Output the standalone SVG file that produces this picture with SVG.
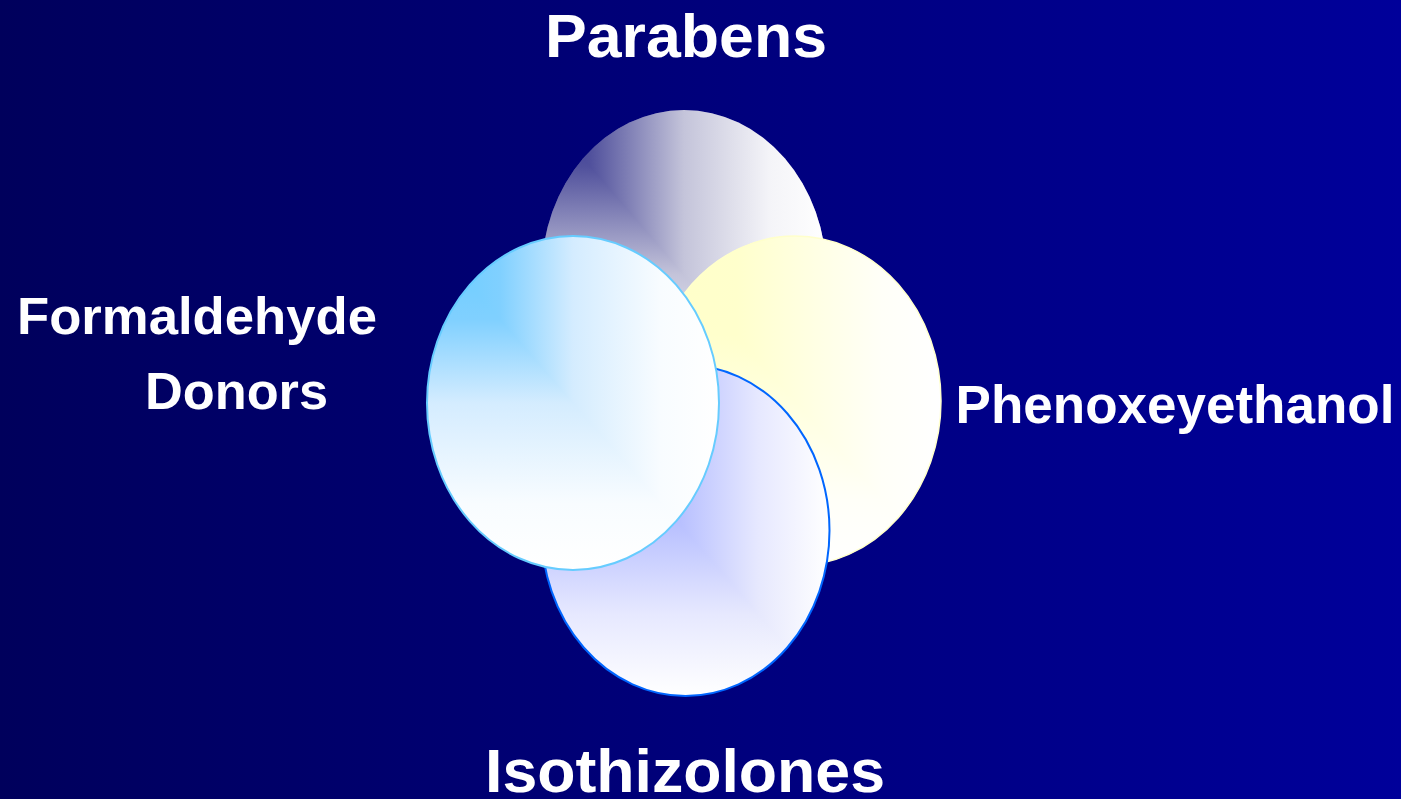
<svg xmlns="http://www.w3.org/2000/svg" width="1401" height="799" viewBox="0 0 1401 799">
<defs>
<linearGradient id="bg" x1="0" y1="0" x2="1" y2="0">
<stop offset="0" stop-color="#00005c"/>
<stop offset="1" stop-color="#00009a"/>
</linearGradient>
<linearGradient id="parH" x1="0" y1="0" x2="1" y2="0">
<stop offset="0" stop-color="#333399"/><stop offset="0.17" stop-color="#50509c"/><stop offset="0.5" stop-color="#c4c4da"/><stop offset="0.8" stop-color="#f4f4f8"/><stop offset="1" stop-color="#ffffff"/>
</linearGradient>
<linearGradient id="parV" x1="0" y1="0" x2="0" y2="1">
<stop offset="0" stop-color="#333399"/><stop offset="0.17" stop-color="#50509c"/><stop offset="0.5" stop-color="#c4c4da"/><stop offset="0.8" stop-color="#f4f4f8"/><stop offset="1" stop-color="#ffffff"/>
</linearGradient>
<linearGradient id="forH" x1="0" y1="0" x2="1" y2="0">
<stop offset="0" stop-color="#66ccff"/><stop offset="0.25" stop-color="#80d0ff"/><stop offset="0.5" stop-color="#d4ecfe"/><stop offset="0.8" stop-color="#f8fcff"/><stop offset="1" stop-color="#ffffff"/>
</linearGradient>
<linearGradient id="forV" x1="0" y1="0" x2="0" y2="1">
<stop offset="0" stop-color="#66ccff"/><stop offset="0.25" stop-color="#80d0ff"/><stop offset="0.5" stop-color="#d4ecfe"/><stop offset="0.8" stop-color="#f8fcff"/><stop offset="1" stop-color="#ffffff"/>
</linearGradient>
<linearGradient id="pheH" x1="0" y1="0" x2="1" y2="0">
<stop offset="0" stop-color="#ffffc8"/><stop offset="0.3" stop-color="#ffffcc"/><stop offset="0.8" stop-color="#fffff8"/><stop offset="1" stop-color="#ffffff"/>
</linearGradient>
<linearGradient id="pheV" x1="0" y1="0" x2="0" y2="1">
<stop offset="0" stop-color="#ffffc8"/><stop offset="0.3" stop-color="#ffffcc"/><stop offset="0.8" stop-color="#fffff8"/><stop offset="1" stop-color="#ffffff"/>
</linearGradient>
<linearGradient id="isoH" x1="0" y1="0" x2="1" y2="0">
<stop offset="0" stop-color="#7080ff"/><stop offset="0.48" stop-color="#b8c0ff"/><stop offset="0.75" stop-color="#e6e8fd"/><stop offset="1" stop-color="#ffffff"/>
</linearGradient>
<linearGradient id="isoV" x1="0" y1="0" x2="0" y2="1">
<stop offset="0" stop-color="#7080ff"/><stop offset="0.48" stop-color="#b8c0ff"/><stop offset="0.75" stop-color="#e6e8fd"/><stop offset="1" stop-color="#ffffff"/>
</linearGradient>
</defs>
<style>
.lbl{font-family:"Liberation Sans",Arial,sans-serif;font-weight:bold;fill:#ffffff;text-anchor:middle}
.node{isolation:isolate}
.lite{mix-blend-mode:lighten}
</style>
<rect x="0" y="0" width="1401" height="799" fill="url(#bg)"/>
<g id="parabens" class="node">
<ellipse cx="684" cy="275" rx="142.5" ry="165" fill="url(#parH)"/>
<ellipse class="lite" cx="684" cy="275" rx="142.5" ry="165" fill="url(#parV)"/>
</g>
<g id="phenoxeyethanol" class="node">
<ellipse cx="795" cy="401" rx="146" ry="165" fill="url(#pheH)"/>
<ellipse class="lite" cx="795" cy="401" rx="146" ry="165" fill="url(#pheV)"/>
<ellipse cx="795" cy="401" rx="146" ry="165" fill="none" stroke="#ffffcc" stroke-width="1.5"/>
</g>
<g id="isothizolones" class="node">
<ellipse cx="685.5" cy="530.5" rx="144" ry="165.5" fill="url(#isoH)"/>
<ellipse class="lite" cx="685.5" cy="530.5" rx="144" ry="165.5" fill="url(#isoV)"/>
<ellipse cx="685.5" cy="530.5" rx="144" ry="165.5" fill="none" stroke="#0066ff" stroke-width="2"/>
</g>
<g id="formaldehyde" class="node">
<ellipse cx="573" cy="403" rx="146" ry="167" fill="url(#forH)"/>
<ellipse class="lite" cx="573" cy="403" rx="146" ry="167" fill="url(#forV)"/>
<ellipse cx="573" cy="403" rx="146" ry="167" fill="none" stroke="#66ccff" stroke-width="2"/>
</g>
<g id="labels">
<text class="lbl" x="686" y="57" font-size="62" textLength="282" lengthAdjust="spacingAndGlyphs">Parabens</text>
<text class="lbl" x="197" y="334" font-size="52" textLength="360" lengthAdjust="spacingAndGlyphs">Formaldehyde</text>
<text class="lbl" x="236.5" y="409" font-size="52" textLength="183" lengthAdjust="spacingAndGlyphs">Donors</text>
<text class="lbl" x="1175" y="423" font-size="53">Phenoxeyethanol</text>
<text class="lbl" x="685" y="792" font-size="61" textLength="400" lengthAdjust="spacingAndGlyphs">Isothizolones</text>
</g>
</svg>
